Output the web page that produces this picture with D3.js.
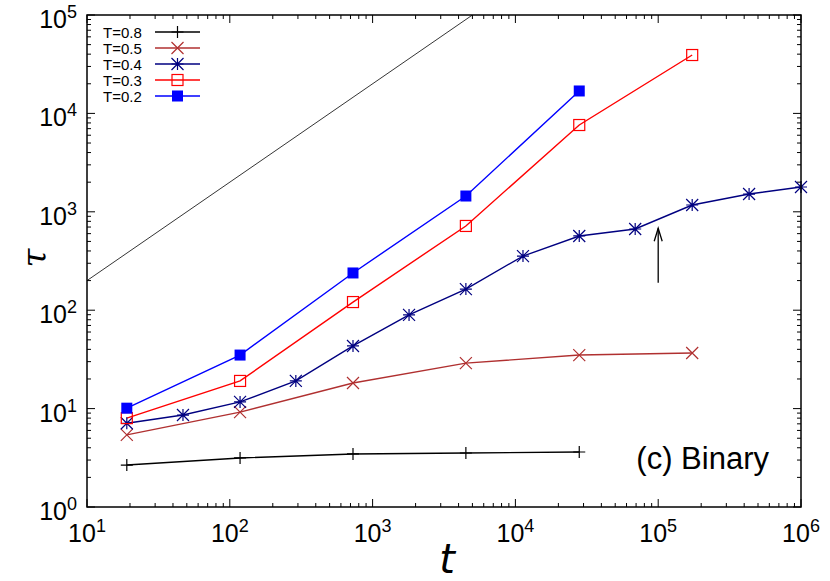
<!DOCTYPE html>
<html>
<head>
<meta charset="utf-8">
<script src="https://cdn.jsdelivr.net/npm/d3@7"></script>
<style>
  body { margin: 0; background: #fff; }
  svg { display: block; font-family: "Liberation Sans", Arial, sans-serif; }
</style>
</head>
<body>
<div class="chart"></div>
<script>
const width = 830;
const height = 581;
const plot = { left: 87, right: 801, top: 15, bottom: 507 };

// data
const tMain = [19, 118, 729, 4500, 28000, 173000];
const tFine = [19, 47, 118, 290, 729, 1800, 4500, 11300, 28000, 69000, 173000, 433000, 1000000];

const tau08 = [2.67, 3.15, 3.46, 3.54, 3.62];
const tau05 = [5.4, 9.2, 18.2, 29, 35, 36.7];
const tau04 = [7.1, 8.6, 11.7, 19.1, 43.3, 89.5, 164, 355, 568, 669, 1172, 1515, 1786];
const tau03 = [8.0, 19.1, 121, 718, 7620, 39200];
const tau02 = [10.1, 35, 239, 1447, 16900];

const seriesLabels = ["T=0.8", "T=0.5", "T=0.4", "T=0.3", "T=0.2"];
const seriesColors = ["#000000", "#b03030", "#000080", "#ff0000", "#0000ff"];
const seriesMarkers = ["plus", "cross", "star", "square", "filled"];

const xTicks = [1e1, 1e2, 1e3, 1e4, 1e5, 1e6];
const yTicks = [1e0, 1e1, 1e2, 1e3, 1e4, 1e5];

// reference slope line tau = 20 t, and the arrow at t = 1e5
const guideFactor = 20;
const arrowT = 1e5;
const arrowTau = [190, 680];

const series = [
  { t: tMain.slice(0, tau08.length), tau: tau08 },
  { t: tMain, tau: tau05 },
  { t: tFine, tau: tau04 },
  { t: tMain, tau: tau03 },
  { t: tMain.slice(0, tau02.length), tau: tau02 },
];

const x = d3.scaleLog().domain([1e1, 1e6]).range([plot.left, plot.right]);
const y = d3.scaleLog().domain([1e0, 1e5]).range([plot.bottom, plot.top]);

const svg = d3.select(".chart").append("svg")
  .attr("width", width)
  .attr("height", height);

svg.append("defs").append("clipPath").attr("id", "clip")
  .append("rect")
  .attr("x", plot.left).attr("y", plot.top)
  .attr("width", plot.right - plot.left)
  .attr("height", plot.bottom - plot.top);

function drawMarker(g, kind, color, cx, cy) {
  const s = 6;
  if (kind === "plus") {
    g.append("path")
      .attr("d", `M${cx - s},${cy}H${cx + s}M${cx},${cy - s}V${cy + s}`)
      .attr("stroke", color).attr("stroke-width", 1.2).attr("fill", "none");
  } else if (kind === "cross") {
    g.append("path")
      .attr("d", `M${cx - s},${cy - s}L${cx + s},${cy + s}M${cx - s},${cy + s}L${cx + s},${cy - s}`)
      .attr("stroke", color).attr("stroke-width", 1.2).attr("fill", "none");
  } else if (kind === "star") {
    g.append("path")
      .attr("d", `M${cx - s},${cy}H${cx + s}M${cx},${cy - s}V${cy + s}` +
        `M${cx - s},${cy - s}L${cx + s},${cy + s}M${cx - s},${cy + s}L${cx + s},${cy - s}`)
      .attr("stroke", color).attr("stroke-width", 1.2).attr("fill", "none");
  } else if (kind === "square") {
    g.append("rect")
      .attr("x", cx - 5.5).attr("y", cy - 5.5)
      .attr("width", 11).attr("height", 11)
      .attr("stroke", color).attr("stroke-width", 1.2).attr("fill", "none");
  } else if (kind === "filled") {
    g.append("rect")
      .attr("x", cx - 5.5).attr("y", cy - 5.5)
      .attr("width", 11).attr("height", 11)
      .attr("fill", color);
  }
}

// ticks, inward on all four sides
const ticksG = svg.append("g").attr("stroke", "#000").attr("stroke-width", 1);
const minorMult = [2, 3, 4, 5, 6, 7, 8, 9];

xTicks.forEach((v, i) => {
  const px = x(v);
  ticksG.append("line").attr("x1", px).attr("x2", px).attr("y1", plot.bottom).attr("y2", plot.bottom - 8);
  ticksG.append("line").attr("x1", px).attr("x2", px).attr("y1", plot.top).attr("y2", plot.top + 8);
  if (i < xTicks.length - 1) {
    minorMult.forEach((m) => {
      const mx = x(v * m);
      ticksG.append("line").attr("x1", mx).attr("x2", mx).attr("y1", plot.bottom).attr("y2", plot.bottom - 4);
      ticksG.append("line").attr("x1", mx).attr("x2", mx).attr("y1", plot.top).attr("y2", plot.top + 4);
    });
  }
});

yTicks.forEach((v, i) => {
  const py = y(v);
  ticksG.append("line").attr("x1", plot.left).attr("x2", plot.left + 8).attr("y1", py).attr("y2", py);
  ticksG.append("line").attr("x1", plot.right).attr("x2", plot.right - 8).attr("y1", py).attr("y2", py);
  if (i < yTicks.length - 1) {
    minorMult.forEach((m) => {
      const my = y(v * m);
      ticksG.append("line").attr("x1", plot.left).attr("x2", plot.left + 4).attr("y1", my).attr("y2", my);
      ticksG.append("line").attr("x1", plot.right).attr("x2", plot.right - 4).attr("y1", my).attr("y2", my);
    });
  }
});

// tick labels as 10^n
function powerLabel(sel, v) {
  const n = Math.round(Math.log10(v));
  sel.append("tspan").text("10");
  sel.append("tspan").attr("dy", -10).attr("font-size", 18).text(n);
}

xTicks.forEach((v) => {
  const t = svg.append("text")
    .attr("x", x(v))
    .attr("y", 542)
    .attr("text-anchor", "middle")
    .attr("font-size", 25);
  powerLabel(t, v);
});

yTicks.forEach((v) => {
  const t = svg.append("text")
    .attr("x", 77)
    .attr("y", y(v) + 13)
    .attr("text-anchor", "end")
    .attr("font-size", 25);
  powerLabel(t, v);
});

// slope guide line
const clipped = svg.append("g").attr("clip-path", "url(#clip)");
clipped.append("line")
  .attr("x1", x(1e1)).attr("y1", y(1e1 * guideFactor))
  .attr("x2", x(1e4)).attr("y2", y(1e4 * guideFactor))
  .attr("stroke", "#000").attr("stroke-width", 0.8);

// series lines and markers
const line = d3.line()
  .x((d) => x(d[0]))
  .y((d) => y(d[1]));

series.forEach((s, i) => {
  const pts = s.t.map((t, j) => [t, s.tau[j]]);
  clipped.append("path")
    .datum(pts)
    .attr("d", line)
    .attr("fill", "none")
    .attr("stroke", seriesColors[i])
    .attr("stroke-width", 1.4);
  const mg = svg.append("g");
  pts.forEach((p) => drawMarker(mg, seriesMarkers[i], seriesColors[i], x(p[0]), y(p[1])));
});

// arrow
const ax = x(arrowT);
svg.append("line")
  .attr("x1", ax).attr("x2", ax)
  .attr("y1", y(arrowTau[0])).attr("y2", y(arrowTau[1]))
  .attr("stroke", "#000").attr("stroke-width", 1.3);
svg.append("path")
  .attr("d", `M${ax - 4},${y(arrowTau[1]) + 13}L${ax},${y(arrowTau[1])}L${ax + 4},${y(arrowTau[1]) + 13}`)
  .attr("stroke", "#000").attr("stroke-width", 1.3).attr("fill", "none");

// legend
const legend = svg.append("g");
seriesLabels.forEach((label, i) => {
  const ly = 32 + i * 16;
  legend.append("text")
    .attr("x", 103).attr("y", ly + 5.5)
    .attr("font-size", 15)
    .text(label);
  legend.append("line")
    .attr("x1", 155).attr("x2", 200)
    .attr("y1", ly).attr("y2", ly)
    .attr("stroke", seriesColors[i]).attr("stroke-width", 1.4);
  drawMarker(legend, seriesMarkers[i], seriesColors[i], 177.5, ly);
});

// frame
svg.append("rect")
  .attr("x", plot.left).attr("y", plot.top)
  .attr("width", plot.right - plot.left)
  .attr("height", plot.bottom - plot.top)
  .attr("fill", "none")
  .attr("stroke", "#000")
  .attr("stroke-width", 1.5);

// panel tag and axis titles
svg.append("text")
  .attr("x", 769).attr("y", 469)
  .attr("text-anchor", "end")
  .attr("font-size", 31)
  .text("(c) Binary");

svg.append("text")
  .attr("transform", "translate(46,258) rotate(-90)")
  .attr("text-anchor", "middle")
  .attr("font-size", 34)
  .attr("font-style", "italic")
  .attr("font-family", "'DejaVu Serif', serif")
  .text("τ");

svg.append("text")
  .attr("x", 447).attr("y", 573)
  .attr("text-anchor", "middle")
  .attr("font-size", 40)
  .attr("font-style", "italic")
  .attr("font-family", "'DejaVu Sans', sans-serif")
  .text("t");
</script>
</body>
</html>
